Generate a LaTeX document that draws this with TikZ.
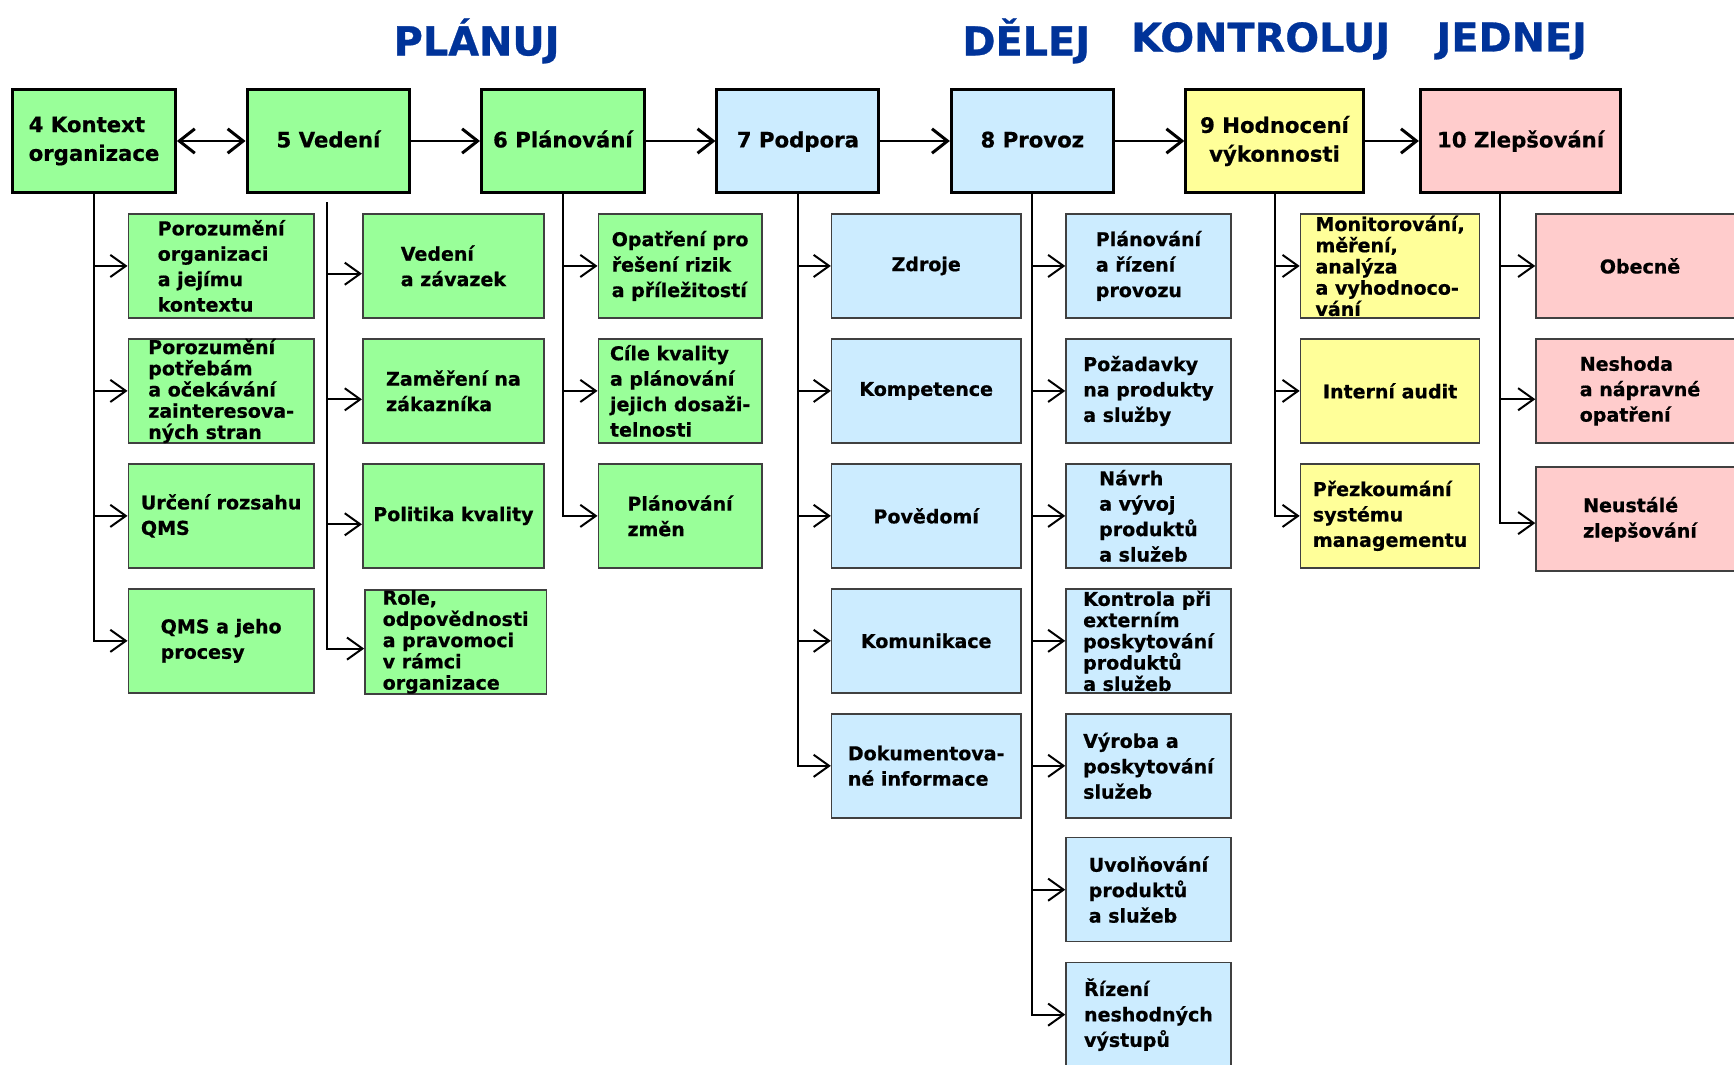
\documentclass[tikz,border=0pt]{standalone}
\usepackage{fontspec}
\setmainfont{DejaVu Sans}[BoldFeatures={FakeBold=0.7}]
\usetikzlibrary{arrows.meta}
\definecolor{pgreen}{HTML}{99FF99}
\definecolor{pblue}{HTML}{CCECFF}
\definecolor{pyellow}{HTML}{FFFF99}
\definecolor{ppink}{HTML}{FFCCCC}
\definecolor{tblue}{HTML}{003399}
\newcommand{\mainfnt}{\fontsize{9.6}{13}\selectfont\bfseries}
\newcommand{\subfnt}{\fontsize{8.6}{11.5}\selectfont\bfseries}
\newcommand{\tightfnt}{\fontsize{8.6}{9.6}\selectfont\bfseries}
\tikzset{
  mainbox/.style ={rectangle, draw=black, line width=1.35pt, minimum height=46.3pt, inner sep=2pt, font=\mainfnt},
  oneline/.style ={text height=7.4pt, text depth=1.6pt},
  subbox/.style  ={rectangle, draw=black!75, line width=0.7pt, minimum height=47pt, inner xsep=2pt, inner ysep=0pt, font=\subfnt, align=left},
  tight/.style   ={font=\tightfnt},
  phase/.style   ={font=\fontsize{18}{20}\selectfont\bfseries, text=tblue},
  flow/.style    ={line width=1.35pt, -{Straight Barb[length=7pt,width=11pt]}},
  both/.style    ={line width=1.35pt, {Straight Barb[length=7pt,width=11pt]}-{Straight Barb[length=7pt,width=11pt]}},
  br/.style      ={line width=0.9pt, -{Straight Barb[length=7pt,width=10pt]}},
}
\begin{document}
\begin{tikzpicture}[x=0.5pt, y=-0.5pt]
\path[use as bounding box, fill=white] (0,0) rectangle (1568,963);
% phase headings
\node[phase] (plan) at (431,37) {PLÁNUJ};
\node[phase] (do)   at (928,37) {DĚLEJ};
\node[phase] (chk)  at (1140,37) {KONTROLUJ};
\node[phase] (act)  at (1367,37) {JEDNEJ};
% main clauses
\node[mainbox, fill=pgreen, minimum width=73.6pt, align=left] (k4) at (85,127.5) {4 Kontext\\organizace};
\node[mainbox, oneline, fill=pgreen, minimum width=73.6pt] (k5) at (297,127.5) {5 Vedení};
\node[mainbox, oneline, fill=pgreen, minimum width=73.6pt] (k6) at (509,127.5) {6 Plánování};
\node[mainbox, oneline, fill=pblue, minimum width=73.2pt] (k7) at (721.5,127.5) {7 Podpora};
\node[mainbox, oneline, fill=pblue, minimum width=73.2pt] (k8) at (933.5,127.5) {8 Provoz};
\node[mainbox, fill=pyellow, minimum width=80.2pt, align=center] (k9) at (1152.5,127.5) {9 Hodnocení\\výkonnosti};
\node[mainbox, oneline, fill=ppink, minimum width=90.6pt] (k10) at (1375,127.5) {10 Zlepšování};
\draw[both] (k4) -- (k5);
\draw[flow] (k5) -- (k6);
\draw[flow] (k6) -- (k7);
\draw[flow] (k7) -- (k8);
\draw[flow] (k8) -- (k9);
\draw[flow] (k9) -- (k10);
% 4 context
\node[subbox, fill=pgreen, minimum width=84pt] (a1) at (200,240.5) {Porozumění\\organizaci\\a jejímu\\kontextu};
\node[subbox, tight, fill=pgreen, minimum width=84pt] (a2) at (200,353.5) {Porozumění\\potřebám\\a očekávání\\zainteresova-\\ných stran};
\node[subbox, fill=pgreen, minimum width=84pt] (a3) at (200,466.5) {Určení rozsahu\\QMS};
\node[subbox, fill=pgreen, minimum width=84pt] (a4) at (200,579.5) {QMS a jeho\\procesy};
\draw[br] (k4.south) |- (a1.west);
\draw[br] (k4.south) |- (a2.west);
\draw[br] (k4.south) |- (a3.west);
\draw[br] (k4.south) |- (a4.west);
% 5 leadership
\node[subbox, fill=pgreen, minimum width=82pt] (b1) at (410,240.5) {Vedení\\a závazek};
\node[subbox, fill=pgreen, minimum width=82pt] (b2) at (410,353.5) {Zaměření na\\zákazníka};
\node[subbox, fill=pgreen, minimum width=82pt] (b3) at (410,466.5) {Politika kvality};
\node[subbox, tight, fill=pgreen, minimum width=82pt] (b4) at (412,580.5) {Role,\\odpovědnosti\\a pravomoci\\v rámci\\organizace};
\coordinate (t5) at (296,183);
\draw[br] (t5) |- ([yshift=-3.5pt]b1.west);
\draw[br] (t5) |- ([yshift=-3.8pt]b2.west);
\draw[br] (t5) |- ([yshift=-3.8pt]b3.west);
\draw[br] (t5) |- ([yshift=-3pt]b4.west);
% 6 planning
\node[subbox, fill=pgreen, minimum width=74pt] (c1) at (615,240.5) {Opatření pro\\řešení rizik\\a příležitostí};
\node[subbox, fill=pgreen, minimum width=74pt] (c2) at (615,353.5) {Cíle kvality\\a plánování\\jejich dosaži-\\telnosti};
\node[subbox, fill=pgreen, minimum width=74pt] (c3) at (615,466.5) {Plánování\\změn};
\draw[br] (k6.south) |- (c1.west);
\draw[br] (k6.south) |- (c2.west);
\draw[br] (k6.south) |- (c3.west);
% 7 support
\node[subbox, fill=pblue, minimum width=85.5pt] (d1) at (837.5,240.5) {Zdroje};
\node[subbox, fill=pblue, minimum width=85.5pt] (d2) at (837.5,353.5) {Kompetence};
\node[subbox, fill=pblue, minimum width=85.5pt] (d3) at (837.5,466.5) {Povědomí};
\node[subbox, fill=pblue, minimum width=85.5pt] (d4) at (837.5,579.5) {Komunikace};
\node[subbox, fill=pblue, minimum width=85.5pt] (d5) at (837.5,692.5) {Dokumentova-\\né informace};
\draw[br] (k7.south) |- (d1.west);
\draw[br] (k7.south) |- (d2.west);
\draw[br] (k7.south) |- (d3.west);
\draw[br] (k7.south) |- (d4.west);
\draw[br] (k7.south) |- (d5.west);
% 8 operation
\node[subbox, fill=pblue, minimum width=74.5pt] (e1) at (1038.5,240.5) {Plánování\\a řízení\\provozu};
\node[subbox, fill=pblue, minimum width=74.5pt] (e2) at (1038.5,353.5) {Požadavky\\na produkty\\a služby};
\node[subbox, fill=pblue, minimum width=74.5pt] (e3) at (1038.5,466.5) {Návrh\\a vývoj\\produktů\\a služeb};
\node[subbox, tight, fill=pblue, minimum width=74.5pt] (e4) at (1038.5,579.5) {Kontrola při\\externím\\poskytování\\produktů\\a služeb};
\node[subbox, fill=pblue, minimum width=74.5pt] (e5) at (1038.5,692.5) {Výroba a\\poskytování\\služeb};
\node[subbox, fill=pblue, minimum width=74.5pt] (e6) at (1038.5,804.5) {Uvolňování\\produktů\\a služeb};
\node[subbox, fill=pblue, minimum width=74.5pt] (e7) at (1038.5,917.5) {Řízení\\neshodných\\výstupů};
\draw[br] (k8.south) |- (e1.west);
\draw[br] (k8.south) |- (e2.west);
\draw[br] (k8.south) |- (e3.west);
\draw[br] (k8.south) |- (e4.west);
\draw[br] (k8.south) |- (e5.west);
\draw[br] (k8.south) |- (e6.west);
\draw[br] (k8.south) |- (e7.west);
% 9 evaluation
\node[subbox, tight, fill=pyellow, minimum width=81pt] (f1) at (1257,240.5) {Monitorování,\\měření,\\analýza\\a vyhodnoco-\\vání};
\node[subbox, fill=pyellow, minimum width=81pt] (f2) at (1257,353.5) {Interní audit};
\node[subbox, fill=pyellow, minimum width=81pt] (f3) at (1257,466.5) {Přezkoumání\\systému\\managementu};
\draw[br] (k9.south) |- (f1.west);
\draw[br] (k9.south) |- (f2.west);
\draw[br] (k9.south) |- (f3.west);
% 10 improvement
\node[subbox, fill=ppink, minimum width=94pt] (g1) at (1483,240.5) {Obecně};
\node[subbox, fill=ppink, minimum width=94pt] (g2) at (1483,353.5) {Neshoda\\a nápravné\\opatření};
\node[subbox, fill=ppink, minimum width=94pt] (g3) at (1483,469.5) {Neustálé\\zlepšování};
\coordinate (t10) at (1356,175);
\draw[br] (t10) |- (g1.west);
\draw[br] (t10) |- ([yshift=-3.75pt]g2.west);
\draw[br] (t10) |- ([yshift=-1.75pt]g3.west);
\end{tikzpicture}
\end{document}
